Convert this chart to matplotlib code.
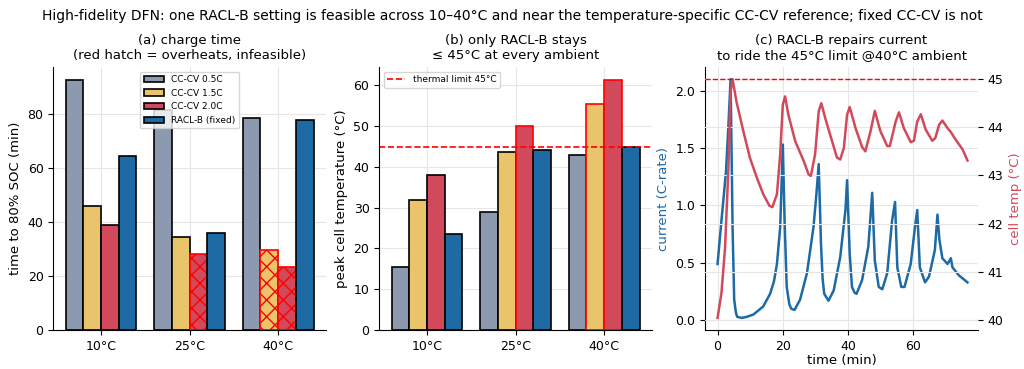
import numpy as np
import matplotlib
matplotlib.use("Agg")
import matplotlib.pyplot as plt

# ambient temperatures and protocols
ambients = ["10°C", "25°C", "40°C"]
protocols = ["CC-CV 0.5C", "CC-CV 1.5C", "CC-CV 2.0C", "RACL-B (fixed)"]
colors = ["#8d99ae", "#e9c46a", "#d1495b", "#1d6aa5"]

# (a) time to 80% SOC (min), one list per protocol, ordered by ambient
t80_cc05 = [92.6, 81.5, 78.5]
t80_cc15 = [45.9, 34.5, 29.5]
t80_cc20 = [38.8, 27.9, 23.3]
t80_racl = [64.5, 35.8, 77.5]

# (b) peak cell temperature (°C)
tpk_cc05 = [15.5, 28.9, 42.8]
tpk_cc15 = [31.9, 43.7, 55.4]
tpk_cc20 = [38.1, 50.0, 61.4]
tpk_racl = [23.6, 44.1, 44.8]

T_LIMIT = 45.0

# (c) RACL-B trace at 40°C ambient
cur_t = [0, 1.2, 2.6, 3.3, 4.0, 4.6, 5.1, 5.6, 6.0, 7.4, 9, 11, 14, 16.1, 17.3, 18.2, 19.2, 20.0,
         20.6, 21.2, 22.0, 22.6, 23.6, 25.3, 27.4, 29.4, 30.3, 31.0,
         31.7, 32.2, 32.7, 34.0, 35.6, 37.6, 39.2, 39.7,
         40.5, 41.2, 42.0, 42.6, 44.3, 46.2, 47.4,
         48.2, 49.4, 50.5, 52.0, 53.5, 54.4,
         55.1, 56.3, 57.3, 59.2, 60.5, 61.2,
         62.0, 63.6, 64.8, 66.6, 67.4,
         68.0, 68.9, 70.5, 71.5, 72.0, 74.0, 76.6]
cur_i = [0.49, 0.87, 1.30, 1.68, 2.10, 0.81, 0.18, 0.07, 0.03, 0.02, 0.03, 0.05, 0.12, 0.23, 0.34, 0.49, 0.81, 1.53,
         0.81, 0.29, 0.14, 0.10, 0.09, 0.18, 0.41, 0.81, 1.10, 1.36,
         0.67, 0.36, 0.23, 0.17, 0.26, 0.55, 0.96, 1.22,
         0.58, 0.29, 0.24, 0.23, 0.35, 0.64, 1.11,
         0.52, 0.29, 0.27, 0.41, 0.87, 1.03,
         0.46, 0.29, 0.29, 0.49, 0.81, 0.96,
         0.46, 0.33, 0.38, 0.61, 0.92,
         0.70, 0.54, 0.49, 0.54, 0.46, 0.39, 0.33]

temp_t = [0, 1.2, 2.3, 3.3, 4.0, 4.6, 5.8, 7.9, 9.9, 12.0, 14.0, 15.9, 16.8, 18.2, 19.2, 20.0, 20.7,
          21.7, 23.8, 26.4, 27.9, 28.6, 29.9, 31.0, 31.8,
          33.0, 35.1, 36.6, 37.6, 38.7, 39.7, 40.5,
          42.3, 44.3, 45.3, 46.9, 48.2,
          49.9, 52.0, 52.8, 54.6, 55.6,
          57.1, 59.2, 60.2, 61.2, 62.3,
          63.8, 65.8, 66.7, 67.9, 68.9, 70.5, 71.5, 73.0, 75.1, 76.6]
temp_c = [40.04, 40.56, 41.5, 43.1, 44.74, 45.0, 44.53, 43.92, 43.37, 42.96, 42.61, 42.37, 42.34, 42.61, 43.44, 44.47, 44.64,
          44.26, 43.71, 43.30, 43.02, 42.99, 43.44, 44.33, 44.50,
          44.19, 43.71, 43.37, 43.33, 43.57, 44.26, 44.42,
          43.98, 43.59, 43.50, 43.92, 44.34,
          43.92, 43.61, 43.61, 44.12, 44.31,
          43.98, 43.69, 43.72, 44.12, 44.27,
          43.95, 43.72, 43.77, 44.05, 44.14, 43.98, 43.90, 43.74, 43.54, 43.31]

# which (protocol, ambient) runs overheat
infeasible = [(2, 1), (1, 2), (2, 2)]


def style_ax(ax):
    for s in ("top", "right"):
        ax.spines[s].set_visible(False)
    ax.grid(True, color="#e6e6e6", linewidth=0.8)
    ax.set_axisbelow(True)


def grouped_bars(ax, series, hatch_bad):
    x = np.arange(len(ambients))
    w = 0.2
    for k, vals in enumerate(series):
        for j, v in enumerate(vals):
            bad = (k, j) in infeasible
            ax.bar(x[j] + (k - 1.5) * w, v, w, color=colors[k],
                   edgecolor="red" if bad else "black", linewidth=1.2,
                   hatch="xx" if (bad and hatch_bad) else None,
                   label=protocols[k] if j == 0 else None)
    ax.set_xticks(x)
    ax.set_xticklabels(ambients)


plt.rcParams["font.size"] = 9
plt.rcParams["axes.labelsize"] = 9.5
plt.rcParams["hatch.linewidth"] = 1.0
fig, axes = plt.subplots(1, 3, figsize=(10.24, 3.69), dpi=100)
fig.subplots_adjust(left=0.052, right=0.955, top=0.818, bottom=0.106, wspace=0.195)

# (a)
ax = axes[0]
style_ax(ax)
grouped_bars(ax, [t80_cc05, t80_cc15, t80_cc20, t80_racl], True)
ax.set_ylabel("time to 80% SOC (min)")
ax.set_title("(a) charge time\n(red hatch = overheats, infeasible)", fontsize=9.5)
ax.legend(loc="upper center", fontsize=6.5, handlelength=2.2)

# (b)
ax = axes[1]
style_ax(ax)
grouped_bars(ax, [tpk_cc05, tpk_cc15, tpk_cc20, tpk_racl], False)
ax.axhline(T_LIMIT, color="red", linestyle="--", linewidth=1.2, label="thermal limit 45°C")
ax.set_ylabel("peak cell temperature (°C)")
ax.set_title("(b) only RACL-B stays\n≤ 45°C at every ambient", fontsize=9.5)
handles, labels = ax.get_legend_handles_labels()
ax.legend([handles[0]], [labels[0]], loc="upper left", fontsize=6.5)

# (c)
ax = axes[2]
style_ax(ax)
ax.plot(cur_t, cur_i, color="#1d6aa5", linewidth=1.8)
ax.set_xlim(-3.8, 79.8)
ax.set_xlabel("time (min)", labelpad=1)
ax.set_ylabel("current (C-rate)", color="#1d6aa5")
ax.set_title("(c) RACL-B repairs current\nto ride the 45°C limit @40°C ambient", fontsize=9.5)
ax2 = ax.twinx()
for s in ("top", "right", "left", "bottom"):
    ax2.spines[s].set_visible(False)
ax2.grid(True, color="#e6e6e6", linewidth=0.8)
ax2.plot(temp_t, temp_c, color="#d1495b", linewidth=1.8)
ax2.axhline(T_LIMIT, color="red", linestyle="--", linewidth=1.0)
ax2.set_ylabel("cell temp (°C)", color="#d1495b")

fig.suptitle("High-fidelity DFN: one RACL-B setting is feasible across 10–40°C and near the "
             "temperature-specific CC-CV reference; fixed CC-CV is not", fontsize=10, y=0.975)

fig.savefig("out.png", dpi=100)
